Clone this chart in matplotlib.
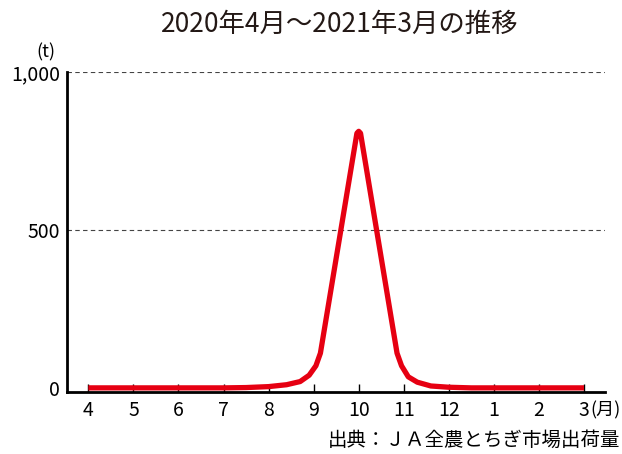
import matplotlib
matplotlib.use("Agg")
import matplotlib.pyplot as plt

plt.rcParams['font.family'] = ['Noto Sans CJK JP', 'DejaVu Sans']

months = ['4', '5', '6', '7', '8', '9', '10', '11', '12', '1', '2', '3']

pos = [0, 1, 2, 3, 3.5, 4.0, 4.4, 4.7, 4.9, 5.05, 5.15, 5.96, 6.0, 6.04,
       6.85, 6.95, 7.1, 7.3, 7.6, 8.0, 8.5, 9, 10, 11]
tons = [0, 0, 0, 0, 1, 4, 10, 20, 40, 70, 110, 806, 812, 806,
        110, 70, 35, 18, 6, 2, 0, 0, 0, 0]

fig = plt.figure(figsize=(6.22, 4.54), dpi=100)
ax = fig.add_axes([0.108, 0.1366, 0.865, 0.705])

ax.plot(pos, tons, color='#e60012', lw=3.8, solid_joinstyle='round',
        solid_capstyle='butt', zorder=3)

ax.set_xlim(-0.47, 11.47)
ax.set_ylim(-13, 1000)

ax.set_yticks([0, 500, 1000])
ax.set_yticklabels(['0', '500', '1,000'], fontsize=14)
ax.set_xticks(range(len(months)))
ax.set_xticklabels(months, fontsize=14)

ax.tick_params(axis='y', length=0, pad=5)
ax.tick_params(axis='x', direction='in', length=6, width=1, pad=6)

for v in [500, 1000]:
    ax.axhline(v, color='#444444', lw=0.8, ls=(0, (4, 3)), zorder=1)

for s in ['top', 'right']:
    ax.spines[s].set_visible(False)
ax.spines['left'].set_linewidth(2)
ax.spines['bottom'].set_linewidth(2)

fig.text(340 / 622, 1 - 24 / 454, '2020年4月～2021年3月の推移', ha='center', va='center',
         fontsize=19, color='#231815')
fig.text(46 / 622, 1 - 52 / 454, '(t)', ha='center', va='center', fontsize=13)
fig.text(621 / 622, 1 - 410 / 454, '(月)', ha='right', va='center', fontsize=13)
fig.text(620 / 622, 1 - 440 / 454, '出典：ＪＡ全農とちぎ市場出荷量', ha='right', va='center',
         fontsize=14)

fig.savefig('out.png', dpi=100)
